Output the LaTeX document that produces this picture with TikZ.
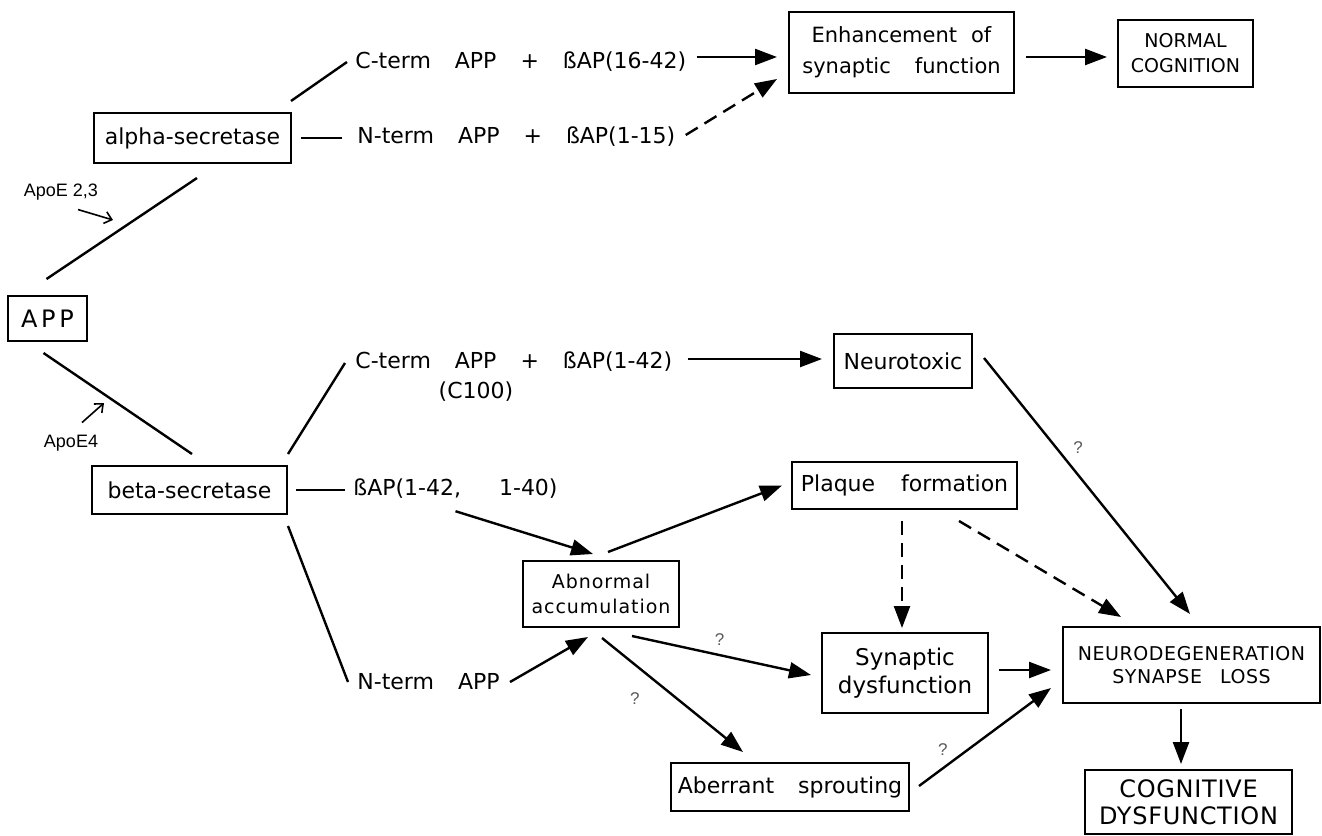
\documentclass[tikz,border=0pt]{standalone}
\usepackage{fontspec}
\setmainfont{DejaVu Sans}
\newfontfamily\narrowfont{Liberation Sans}
\usetikzlibrary{arrows.meta, positioning, calc}
\newcommand{\gp}{\hspace{12pt}}
\tikzset{
  box/.style={draw=black, line width=1pt, inner sep=1pt, align=center},
  term/.style={inner sep=0pt, anchor=west, font=\fontsize{11}{13}\selectfont},
  link/.style={line width=1.2pt},
  arr/.style={line width=1.2pt, -{Triangle[length=11pt, width=8pt]}},
  darr/.style={arr, dash pattern=on 7pt off 4pt},
  apoe/.style={line width=0.8pt, -{Straight Barb[length=3.5pt, width=6pt]}},
  smalltxt/.style={inner sep=0pt, font=\narrowfont\fontsize{9}{10}\selectfont},
  qmark/.style={inner sep=0pt, font=\narrowfont\fontsize{8.5}{9}\selectfont, text=black!65},
}

\begin{document}
\begin{tikzpicture}[x=0.5pt, y=-0.5pt]
    \useasboundingbox (0,0) rectangle (1322,835);
    %% boxes
    \node[box, minimum width=39.5pt, minimum height=22.5pt,
          font=\addfontfeature{LetterSpace=15}\fontsize{12}{14}\selectfont]
          (APP) at (47.5,318.5) {APP};
    \node[box, minimum width=98.5pt, minimum height=25pt, font=\fontsize{11}{13}\selectfont]
          (alpha) at (192.5,138) {alpha-secretase};
    \node[box, minimum width=97.5pt, minimum height=24pt, font=\fontsize{11}{13}\selectfont]
          (beta) at (189.5,490) {beta-secretase};
    \node[box, minimum width=112.5pt, minimum height=40.5pt, font=\fontsize{10.5}{15.5}\selectfont]
          (Enh) at (901.5,52.5) {Enhancement\hspace{7pt}of\\synaptic\gp function};
    \node[box, minimum width=67.5pt, minimum height=33.5pt, font=\fontsize{9.5}{12.5}\selectfont]
          (NORMAL) at (1185.5,53.5) {NORMAL\\COGNITION};
    \node[box, minimum width=69pt, minimum height=27pt, font=\fontsize{11}{13}\selectfont]
          (Neurotoxic) at (903,361) {Neurotoxic};
    \node[box, minimum width=112.5pt, minimum height=23.5pt, font=\fontsize{11}{13}\selectfont]
          (Plaque) at (904.5,485.5) {Plaque\hspace{13pt}formation};
    \node[box, minimum width=78pt, minimum height=33pt,
          font=\addfontfeature{LetterSpace=5}\fontsize{9.5}{12.5}\selectfont]
          (Abnormal) at (601,594) {Abnormal\\accumulation};
    \node[box, minimum width=83pt, minimum height=40pt, font=\fontsize{11.5}{14}\selectfont]
          (Synaptic) at (905,673) {Synaptic\\dysfunction};
    \node[box, minimum width=128.5pt, minimum height=38pt,
          font=\addfontfeature{LetterSpace=3}\fontsize{9.5}{11.5}\selectfont]
          (NEURO) at (1191.5,665) {NEURODEGENERATION\\SYNAPSE\hspace{9pt}LOSS};
    \node[box, minimum width=119pt, minimum height=24pt, font=\fontsize{11}{13}\selectfont]
          (Aberrant) at (790,787) {Aberrant\gp sprouting};
    \node[box, minimum width=103.5pt, minimum height=32pt,
          font=\addfontfeature{LetterSpace=3}\fontsize{12}{13.5}\selectfont]
          (COG) at (1188.5,802) {COGNITIVE\\DYSFUNCTION};
    %% cleavage products
    \node[term] (cterm1) at (355,62) {C-term\gp APP\gp +\gp ßAP(16-42)};
    \node[term] (nterm1) at (357,137) {N-term\gp APP\gp +\gp ßAP(1-15)};
    \node[term] (cterm2) at (355,362) {C-term\gp APP\gp +\gp ßAP(1-42)};
    \node[term, anchor=center] (c100) at (476,392) {(C100)};
    \node[term] (bap) at (353,489) {ßAP(1-42,\hspace{19pt}1-40)};
    \node[term] (nterm2) at (357,682) {N-term\gp APP};
    %% ApoE labels
    \node[smalltxt] (apoeA) at (61,192) {ApoE 2,3};
    \node[smalltxt] (apoeB) at (71,443) {ApoE4};
    \coordinate (e23) at (113,220);
    \coordinate (e4) at (104,403);
    \draw[apoe] ($(apoeA.south)+(17,9)$) -- (e23);
    \draw[apoe] ($(apoeB.north)+(11,-12)$) -- (e4);
    %% plain branches
    \draw[link] ($(APP.north)+(-1,-16)$) -- ($(alpha.south)+(4.5,14)$);
    \draw[link] ($(APP.south)+(-4,11)$) -- ($(beta.north)+(2.5,-11)$);
    \draw[link] ($(alpha.north east)+(-1,-11)$) -- ($(cterm1.west)+(-8,0)$);
    \draw[link] ($(alpha.east)+(9,0)$) -- ($(alpha.east -| nterm1.west)+(-15,0)$);
    \draw[link] ($(beta.north east)+(0,-11)$) -- ($(cterm2.west)+(-10,1)$);
    \draw[link] ($(beta.east)+(8,0)$) -- ($(beta.east -| bap.west)+(-8,0)$);
    \draw[link] ($(beta.south east)+(0,11)$) -- ($(nterm2.west)+(-9,0)$);
    %% arrows
    \draw[arr] ($(cterm1.east)+(10,-5)$) -- ($(Enh.west)+(-11,4.5)$);
    \draw[darr] ($(nterm1.east)+(10,-2)$) -- ($(Enh.south west)+(-11,-15)$);
    \draw[arr] ($(Enh.east)+(11,4.5)$) -- ($(NORMAL.west)+(-10,3.5)$);
    \draw[arr] ($(cterm2.east)+(15,-3)$) -- ($(Neurotoxic.west)+(-11,-2)$);
    \draw[arr] ($(Neurotoxic.east)+(11,-3)$) -- node[qmark, pos=0.35, right=8pt] {?}
               ($(NEURO.north)+(-1.5,-12)$);
    \draw[arr] ($(bap.south)+(0,12)$) -- ($(Abnormal.north)+(-8,-6)$);
    \draw[arr] ($(Abnormal.north)+(7,-8)$) -- ($(Plaque.west)+(-9,0)$);
    \draw[arr] ($(nterm2.east)+(10,0)$) -- ($(Abnormal.south)+(-13,9)$);
    \draw[arr] ($(Abnormal.south)+(31,8)$) -- node[qmark, pos=0.49, above=4pt] {?}
               ($(Synaptic.west)+(-10,2)$);
    \draw[arr] ($(Abnormal.south)+(1,10)$) -- node[qmark, pos=0.53, left=18pt] {?}
               ($(Aberrant.north)+(-47,-10)$);
    \draw[darr] ($(Plaque.south)+(-2.5,11)$) -- ($(Synaptic.north)+(-3,-4)$);
    \draw[darr] ($(Plaque.south east)+(-59,11)$) -- ($(NEURO.north west)+(59,-9)$);
    \draw[arr] ($(Synaptic.east)+(10,-3)$) -- ($(NEURO.west)+(-11,5)$);
    \draw[arr] ($(Aberrant.east)+(9,-1)$) -- node[qmark, pos=0.18, above=6pt] {?}
               ($(NEURO.west)+(-11,23)$);
    \draw[arr] ($(NEURO.south)+(-10.5,5)$) -- ($(COG.north)+(-7.5,-5)$);
  \end{tikzpicture}
\end{document}
